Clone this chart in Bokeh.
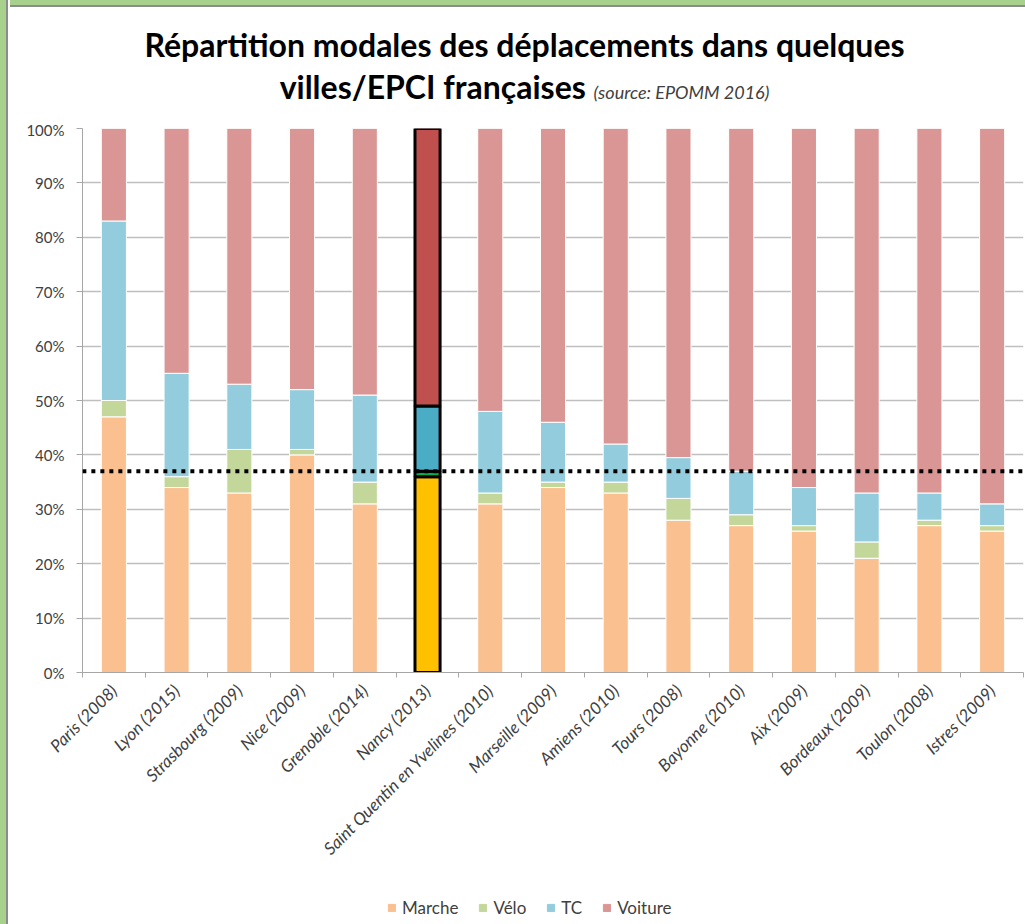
from bokeh.plotting import figure
from bokeh.models import (ColumnDataSource, Range1d, FixedTicker, PrintfTickFormatter,
                          Legend, LegendItem, Arrow, Div)
from bokeh.layouts import row, column
from bokeh.embed import file_html
from bokeh.resources import INLINE

cities = ["Paris (2008)", "Lyon (2015)", "Strasbourg (2009)", "Nice (2009)", "Grenoble (2014)",
          "Nancy (2013)", "Saint Quentin en Yvelines (2010)", "Marseille (2009)", "Amiens (2010)",
          "Tours (2008)", "Bayonne (2010)", "Aix (2009)", "Bordeaux (2009)", "Toulon (2008)",
          "Istres (2009)"]
marche = [47, 34, 33, 40, 31, 36, 31, 34, 33, 28, 27, 26, 21, 27, 26]
velo = [3, 2, 8, 1, 4, 1, 2, 1, 2, 4, 2, 1, 3, 1, 1]
tc = [33, 19, 12, 11, 16, 12, 15, 11, 7, 7.5, 8, 7, 9, 5, 4]
voiture = [17, 45, 47, 48, 49, 51, 52, 54, 58, 60.5, 63, 66, 67, 67, 69]
modes = ["Marche", "Vélo", "TC", "Voiture"]
highlight_city = "Nancy (2013)"
reference_level = 37  # dotted line (%)
title_line1 = "Répartition modales des déplacements dans quelques"
title_line2 = "villes/EPCI françaises"
title_source = "(source: EPOMM 2016)"

colors = ["#FAC090", "#C4D79B", "#93CDDD", "#D99694"]
hl_colors = ["#FFC000", "#00B050", "#4BACC6", "#C0504D"]

xpos = [i + 0.5 for i in range(len(cities))]
keys = ["marche", "velo", "tc", "voiture"]
src = ColumnDataSource(dict(x=xpos, marche=marche, velo=velo, tc=tc, voiture=voiture))
hi = cities.index(highlight_city)
src_hl = ColumnDataSource(dict(x=[xpos[hi]], marche=[marche[hi]], velo=[velo[hi]],
                               tc=[tc[hi]], voiture=[voiture[hi]]))

FONT = "Lato"
TXT = "#404040"
GRID = "#BFBFBF"
GREEN = "#A9D18E"
EDGE = "#8C8C8C"

p = figure(width=1015, height=772, output_backend="svg", toolbar_location=None,
           x_range=Range1d(0, len(cities)), y_range=Range1d(0, 100),
           min_border_left=72, min_border_right=2, min_border_top=8, min_border_bottom=220,
           margin=0)
p.outline_line_color = None
p.background_fill_color = "white"
p.border_fill_color = "white"

p.vbar_stack(keys, x="x", width=0.4, source=src, color=colors,
             line_color="white", line_width=1)
p.vbar_stack(keys, x="x", width=0.4, source=src_hl, fill_color=hl_colors,
             line_color="black", line_width=3)

# axes
p.xgrid.grid_line_color = None
p.ygrid.grid_line_color = GRID
p.ygrid.grid_line_width = 1.5
p.yaxis.ticker = FixedTicker(ticks=list(range(0, 101, 10)))
p.yaxis.formatter = PrintfTickFormatter(format="%d%%")
p.yaxis.axis_line_color = "#A6A6A6"
p.yaxis.major_tick_line_color = "#A6A6A6"
p.yaxis.major_tick_out = 6
p.yaxis.major_tick_in = 0
p.yaxis.minor_tick_line_color = None
p.yaxis.major_label_standoff = 12
p.yaxis.major_label_text_font = FONT
p.yaxis.major_label_text_font_size = "15px"
p.yaxis.major_label_text_color = TXT

p.xaxis.ticker = FixedTicker(ticks=xpos, minor_ticks=list(range(len(cities) + 1)))
p.xaxis.major_label_overrides = {x: c for x, c in zip(xpos, cities)}
p.xaxis.major_label_orientation = 0.785398
p.xaxis.axis_line_color = "#A6A6A6"
p.xaxis.major_tick_line_color = None
p.xaxis.major_tick_out = 0
p.xaxis.major_tick_in = 0
p.xaxis.minor_tick_line_color = "#A6A6A6"
p.xaxis.minor_tick_out = 5
p.xaxis.minor_tick_in = 0
p.xaxis.major_label_standoff = 10
p.xaxis.major_label_text_font = FONT
p.xaxis.major_label_text_font_size = "17px"
p.xaxis.major_label_text_font_style = "italic"
p.xaxis.major_label_text_color = TXT

# dotted reference line
p.add_layout(Arrow(end=None, x_start=-1.15, y_start=reference_level,
                   x_end=len(cities) + 0.1, y_end=reference_level,
                   line_color="black", line_width=4, line_dash="4 5"))

# legend strip: a small figure holding the legend (its own bar renderers are hidden)
lp = figure(width=1015, height=32, output_backend="svg", toolbar_location=None,
            x_range=Range1d(0, len(cities)), y_range=Range1d(0, 100), min_border=0,
            x_axis_location=None, y_axis_location=None, margin=0)
lp.grid.visible = False
lp.outline_line_color = None
lp.border_fill_color = "white"
lrs = lp.vbar_stack(keys, x="x", width=0.4, source=src, color=colors)
for r in lrs:
    r.visible = False
legend = Legend(items=[LegendItem(label=m, renderers=[r]) for m, r in zip(modes, lrs)],
                location=(305, 6), orientation="horizontal",
                glyph_width=9, glyph_height=9, label_standoff=6, spacing=20,
                padding=0, margin=0, border_line_color=None, background_fill_alpha=0,
                inactive_fill_alpha=0,
                label_text_font=FONT, label_text_font_size="17px", label_text_color=TXT)
lp.add_layout(legend)

title_html = (
    f'<div style="width:1015px;height:120px;box-sizing:border-box;border-top:5px solid {GREEN};">'
    f'<div style="height:115px;box-sizing:border-box;border-top:2px solid {EDGE};'
    'padding-top:17px;padding-left:14px;text-align:center;font-family:Lato;font-weight:bold;'
    'font-size:32px;line-height:42px;color:black;">'
    f'{title_line1}<br>{title_line2} '
    f'<span style="font-style:italic;font-weight:normal;font-size:18px;color:{TXT};">{title_source}</span>'
    '</div></div>'
)
title_div = Div(text=title_html, width=1015, height=120, margin=0)
side_div = Div(text=f'<div style="width:8px;height:924px;background:{GREEN};'
                    f'border-right:2px solid {EDGE};"></div>', width=10, height=924, margin=0)

layout = row(side_div, column(title_div, p, lp, spacing=0, margin=0), spacing=0, margin=0)

open("out.html", "w").write(file_html(layout, INLINE))
